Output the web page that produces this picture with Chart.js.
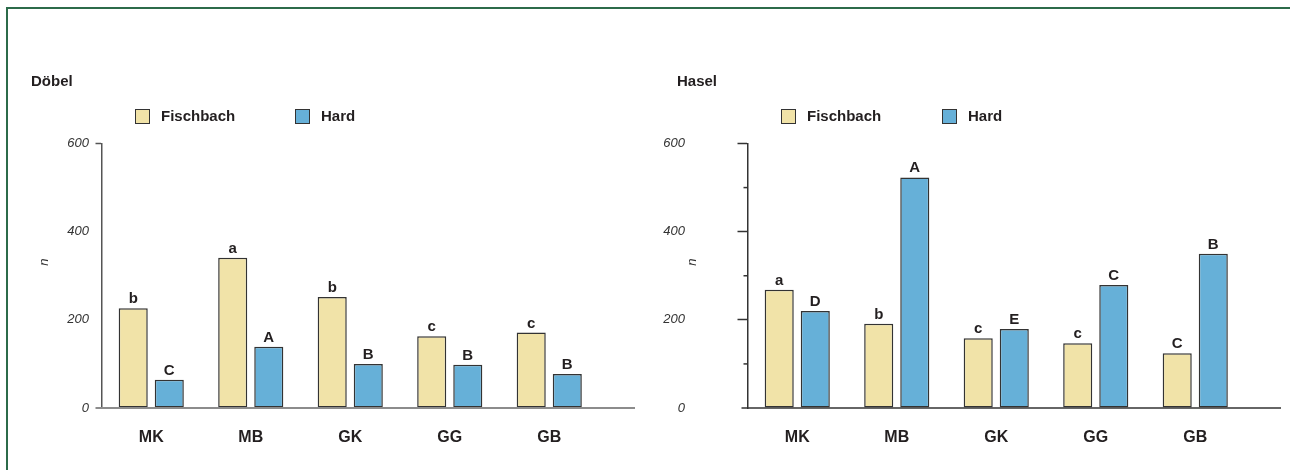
<!DOCTYPE html>
<html>
<head>
<meta charset="utf-8">
<script src="https://cdn.jsdelivr.net/npm/chart.js@4.4.1/dist/chart.umd.min.js"></script>
<style>
  html, body { margin: 0; padding: 0; background: #fff; }
  body {
    width: 1290px; height: 470px; position: relative; overflow: hidden;
    font-family: "Liberation Sans", Arial, Helvetica, sans-serif; color: #231f20;
  }
  #frame {
    position: absolute; left: 6px; top: 7px; right: 0; bottom: 0;
    border-top: 2px solid #2c6b4a; border-left: 2px solid #2c6b4a;
  }
  .panel { position: absolute; top: 0; width: 645px; height: 470px; }
  .panel canvas { position: absolute; left: 0; top: 0; }
  .title {
    position: absolute; left: 31px; top: 72px;
    font-weight: bold; font-size: 15px; line-height: 18px;
  }
  .legend-item {
    position: absolute; top: 108px; height: 16px; line-height: 16px;
    display: flex; align-items: center; font-weight: bold; font-size: 15px;
  }
  .swatch { width: 13px; height: 13px; border: 1.5px solid #333; margin-right: 11px; }
  .ylab {
    position: absolute; left: 38px; top: 254px; width: 12px; height: 16px;
    line-height: 16px; text-align: center;
    font-style: italic; font-size: 13px; color: #333;
    transform: rotate(-90deg);
  }
</style>
</head>
<body>
<div id="frame"></div>

<div class="panel" style="left:0">
  <canvas id="dobel" width="645" height="470"></canvas>
  <div class="title">Döbel</div>
  <div class="legend-item" style="left:135px"><span class="swatch" style="background:#F1E3A8"></span>Fischbach</div>
  <div class="legend-item" style="left:295px"><span class="swatch" style="background:#66B0D8"></span>Hard</div>
  <div class="ylab">n</div>
</div>

<div class="panel" style="left:646px">
  <canvas id="hasel" width="645" height="470"></canvas>
  <div class="title">Hasel</div>
  <div class="legend-item" style="left:135px"><span class="swatch" style="background:#F1E3A8"></span>Fischbach</div>
  <div class="legend-item" style="left:296px"><span class="swatch" style="background:#66B0D8"></span>Hard</div>
  <div class="ylab" style="left:40px">n</div>
</div>

<script>
// Size classes on the x axis
const categories = ['MK', 'MB', 'GK', 'GG', 'GB'];

// Döbel: counts per size class
const dobelFischbach = [226, 341, 252, 163, 171];
const dobelHard = [64, 139, 100, 98, 77];
const dobelFischbachLetters = ['b', 'a', 'b', 'c', 'c'];
const dobelHardLetters = ['C', 'A', 'B', 'B', 'B'];

// Hasel: counts per size class
const haselFischbach = [268, 191, 158, 147, 124];
const haselHard = [220, 523, 179, 279, 350];
const haselFischbachLetters = ['a', 'b', 'c', 'c', 'C'];
const haselHardLetters = ['D', 'A', 'E', 'C', 'B'];

// y axis range and labelled step
const yMin = 0;
const yMax = 600;
const yLabelStep = 200;

const FONT = '"Liberation Sans", Arial, Helvetica, sans-serif';
const FISCH_COLOR = '#F1E3A8';
const HARD_COLOR = '#66B0D8';
const BAR_EDGE = '#333333';

// Significance letters written above each bar
const barLetters = {
  id: 'barLetters',
  afterDatasetsDraw(chart) {
    const ctx = chart.ctx;
    ctx.save();
    ctx.font = 'bold 15px ' + FONT;
    ctx.fillStyle = '#231f20';
    ctx.textAlign = 'center';
    ctx.textBaseline = 'alphabetic';
    chart.data.datasets.forEach((ds, di) => {
      chart.getDatasetMeta(di).data.forEach((bar, i) => {
        ctx.fillText(ds.letters[i], bar.x, bar.y - 5);
      });
    });
    ctx.restore();
  }
};

// Base line at zero, running a little past both ends of the plot
const baseLine = {
  id: 'baseLine',
  afterDatasetsDraw(chart, args, opts) {
    const ctx = chart.ctx;
    const y0 = chart.scales.y.getPixelForValue(0);
    ctx.save();
    ctx.strokeStyle = opts.color;
    ctx.lineWidth = opts.width;
    ctx.beginPath();
    ctx.moveTo(chart.chartArea.left - opts.before, y0);
    ctx.lineTo(chart.chartArea.right + opts.after, y0);
    ctx.stroke();
    ctx.restore();
  }
};

// Short unlabelled ticks between the labelled ones
const minorTicks = {
  id: 'minorTicks',
  afterDraw(chart, args, opts) {
    if (!opts.length) return;
    const ctx = chart.ctx;
    const ys = chart.scales.y;
    ctx.save();
    ctx.strokeStyle = opts.color;
    ctx.lineWidth = 1.5;
    ys.ticks.forEach(t => {
      if (t.value % yLabelStep !== 0) {
        const py = ys.getPixelForValue(t.value);
        ctx.beginPath();
        ctx.moveTo(ys.right - opts.length, py);
        ctx.lineTo(ys.right, py);
        ctx.stroke();
      }
    });
    ctx.restore();
  }
};

function makePanel(id, fisch, hard, fLetters, hLetters, look) {
  return new Chart(document.getElementById(id), {
    type: 'bar',
    data: {
      labels: categories,
      datasets: [
        { label: 'Fischbach', data: fisch, letters: fLetters,
          backgroundColor: FISCH_COLOR, borderColor: BAR_EDGE, borderWidth: 1.5,
          borderSkipped: false, barPercentage: 0.806, categoryPercentage: 0.725 },
        { label: 'Hard', data: hard, letters: hLetters,
          backgroundColor: HARD_COLOR, borderColor: BAR_EDGE, borderWidth: 1.5,
          borderSkipped: false, barPercentage: 0.806, categoryPercentage: 0.725 }
      ]
    },
    options: {
      responsive: false,
      devicePixelRatio: 1,
      animation: false,
      layout: { padding: { left: 0, right: 46, top: 143.5, bottom: 12 } },
      plugins: {
        legend: { display: false },
        tooltip: { enabled: false },
        baseLine: { color: look.baseColor, width: look.baseWidth, before: 6, after: 36 },
        minorTicks: { length: look.minorLength, color: look.axisColor }
      },
      scales: {
        x: {
          afterFit: s => { s.height = 50; },
          border: { display: false },
          grid: { display: false, drawTicks: false },
          ticks: { padding: 20, color: '#231f20', font: { family: FONT, size: 16, weight: 'bold' } }
        },
        y: {
          min: yMin,
          max: yMax,
          afterFit: s => { s.width = 101.5; },
          border: { display: true, color: look.axisColor, width: 1.5 },
          grid: {
            drawOnChartArea: false,
            drawTicks: true,
            tickLength: look.tickLength,
            tickWidth: 1.5,
            tickColor: c => look.showTick(c.tick.value) ? look.axisColor : 'rgba(0,0,0,0)'
          },
          ticks: {
            stepSize: look.minorLength ? yLabelStep / 2 : yLabelStep,
            padding: look.labelPad,
            color: '#333',
            font: { family: FONT, size: 13, style: 'italic' },
            callback: v => (v % yLabelStep === 0 ? String(v) : '')
          }
        }
      }
    },
    plugins: [barLetters, baseLine, minorTicks]
  });
}

makePanel('dobel', dobelFischbach, dobelHard, dobelFischbachLetters, dobelHardLetters, {
  axisColor: '#555555', baseColor: '#8c8c8c', baseWidth: 2,
  tickLength: 6, labelPad: 6.5, minorLength: 0,
  showTick: v => v === yMax
});

makePanel('hasel', haselFischbach, haselHard, haselFischbachLetters, haselHardLetters, {
  axisColor: '#333333', baseColor: '#333333', baseWidth: 1.5,
  tickLength: 10, labelPad: 52.5, minorLength: 4,
  showTick: v => v !== 0 && v % yLabelStep === 0
});
</script>
</body>
</html>
